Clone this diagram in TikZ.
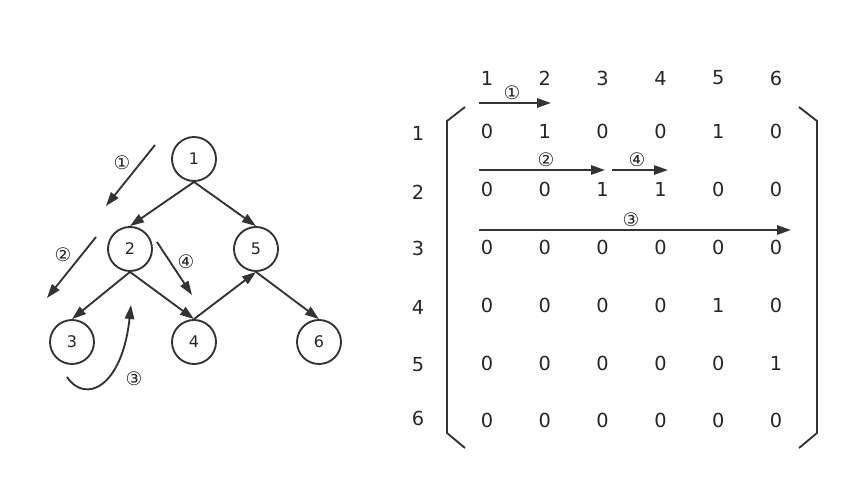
\documentclass[tikz,border=0pt]{standalone}
\usepackage{fontspec}
\setmainfont{DejaVu Sans}
\usetikzlibrary{arrows.meta,positioning}

\begin{document}
\begin{tikzpicture}[x=0.75pt,y=-0.75pt,font=\fontsize{12}{14}\selectfont]
\tikzset{
  vtx/.style={circle,draw=black!80,line width=1.4pt,minimum size=33pt,inner sep=0pt,text=black!85},
  fl/.style={-{Triangle[length=10.5pt,width=7pt]},black!80,line width=1.4pt},
  brk/.style={black!80,line width=1.4pt},
  num/.style={font=\fontsize{14}{16}\selectfont,black!85,inner sep=1pt},
  ent/.style={font=\fontsize{14.5}{16}\selectfont,black!85,inner sep=1pt}
}
\useasboundingbox (0,0) rectangle (848,481);

% graph
\node[vtx] (n1) at (194,159) {1};
\node[vtx] (n2) at (130,249) {2};
\node[vtx] (n5) at (256,249) {5};
\node[vtx] (n3) at (72,342) {3};
\node[vtx] (n4) at (194,342) {4};
\node[vtx] (n6) at (319,342) {6};
\draw[fl] (n1.south) -- (n2.north);
\draw[fl] (n1.south) -- (n5.north);
\draw[fl] (n2.south) -- (n3.north);
\draw[fl] (n2.south) -- (n4.north);
\draw[fl] (n4.north) -- (n5.south);
\draw[fl] (n5.south) -- (n6.north);

% traversal order
\coordinate (g1s) at (155,145); \coordinate (g1e) at (106,206);
\coordinate (g2s) at (96,237);  \coordinate (g2e) at (47,298);
\coordinate (g4s) at (157,242); \coordinate (g4e) at (192,295);
\coordinate (g3s) at (67,377);  \coordinate (g3e) at (131,305);
\draw[fl] (g1s) -- (g1e);
\draw[fl] (g2s) -- (g2e);
\draw[fl] (g4s) -- (g4e);
\draw[fl] (g3s) .. controls (85,404) and (122,388) .. (g3e);
\node[num] (g1) at (122,163) {①};
\node[num] (g2) at (63,255) {②};
\node[num] (g3) at (134,379) {③};
\node[num] (g4) at (186,262) {④};

% adjacency matrix
\foreach \c in {1,...,6}
  \node[ent] (h\c) at ({487+57.8*(\c-1)},78) {\c};
\foreach \r/\yy in {1/133,2/192,3/248,4/307,5/365,6/418}
  \node[ent] (r\r) at (418,\yy) {\r};
\foreach \r/\yy/\vals in {1/131/{0,1,0,0,1,0},2/189/{0,0,1,1,0,0},3/247/{0,0,0,0,0,0},
                          4/305/{0,0,0,0,1,0},5/363/{0,0,0,0,0,1},6/420/{0,0,0,0,0,0}}
  \foreach \v [count=\c] in \vals
    \node[ent] (m\r\c) at ({487+57.8*(\c-1)},\yy) {\v};
\draw[brk] (465,107) -- (447,121) -- (447,433) -- (465,448);
\draw[brk] (799,107) -- (817,121) -- (817,433) -- (799,448);

\coordinate (t1s) at (479,103); \coordinate (t1e) at (551,103);
\coordinate (t2s) at (479,170); \coordinate (t2e) at (605,170);
\coordinate (t4s) at (612,170); \coordinate (t4e) at (668,170);
\coordinate (t3s) at (479,230); \coordinate (t3e) at (791,230);
\draw[fl] (t1s) -- (t1e);
\draw[fl] (t2s) -- (t2e);
\draw[fl] (t4s) -- (t4e);
\draw[fl] (t3s) -- (t3e);
\node[num] (t1) at (512,93) {①};
\node[num] (t2) at (546,160) {②};
\node[num] (t4) at (637,160) {④};
\node[num] (t3) at (631,220) {③};
\end{tikzpicture}
\end{document}
